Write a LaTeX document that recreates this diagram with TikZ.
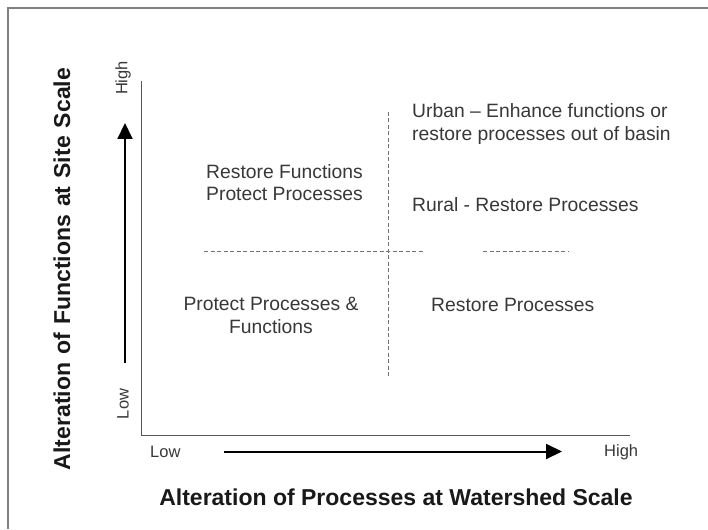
\documentclass[tikz,border=0pt]{standalone}
\usepackage{fontspec}
\setmainfont{Liberation Sans}
\usetikzlibrary{arrows.meta}
\definecolor{txt}{HTML}{383838}
\definecolor{axisc}{HTML}{555555}
\definecolor{framec}{HTML}{808080}
\definecolor{dashc}{HTML}{707070}
\tikzset{
  body/.style={inner sep=0pt, text=txt, font=\fontsize{19.3}{22.5}\selectfont},
  small/.style={inner sep=0pt, text=txt, font=\fontsize{16.5}{19}\selectfont},
  title/.style={inner sep=0pt, text=black!90, font=\bfseries\fontsize{23}{26}\selectfont},
  axisline/.style={draw=axisc, line width=1.4pt},
  divider/.style={draw=dashc, line width=1pt, dash pattern=on 4pt off 2.5pt},
  bigarrow/.style={draw=black, line width=2pt, -{Triangle[length=16pt,width=15pt]}},
}
\begin{document}
\begin{tikzpicture}[x=1pt,y=-1pt]
\useasboundingbox (0,0) rectangle (708,529);
\fill[white] (0,0) rectangle (708,529);
% frame (only top and left visible)
\coordinate (f1) at (8,529);
\coordinate (f2) at (8,8);
\coordinate (f3) at (708,8);
\draw[draw=framec, line width=1.5pt] (f1) -- (f2) -- (f3);
% axes
\coordinate (ytop) at (141.7,81);
\coordinate (origin) at (141.7,435.7);
\coordinate (xend) at (630,435.7);
\draw[axisline] (ytop) -- (origin) -- (xend);
% dividers
\coordinate (v1) at (388,112);
\coordinate (v2) at (388,378);
\draw[divider] (v1) -- (v2);
\coordinate (h1) at (204,251);
\coordinate (h2) at (424,251);
\coordinate (h3) at (483,251);
\coordinate (h4) at (568,251);
\draw[divider] (h1) -- (h2);
\draw[divider] (h3) -- (h4);
% arrows
\coordinate (va) at (125,363);
\coordinate (vb) at (125,123);
\draw[bigarrow] (va) -- (vb);
\coordinate (ha) at (224,451.5);
\coordinate (hb) at (562,451.5);
\draw[bigarrow] (ha) -- (hb);
% axis end labels
\node[small, rotate=90] (yhigh) at (123,78) {High};
\node[small, rotate=90] (ylow) at (123,404) {Low};
\node[small, anchor=west] (xlow) at (150,452) {Low};
\node[small, anchor=west] (xhigh) at (604,452) {High};
% quadrant texts
\node[body, anchor=west, align=left] (q1) at (206,182.5) {Restore Functions\\Protect Processes};
\node[body, anchor=west, align=left] (q2) at (412,124) {Urban -- Enhance functions or\\restore processes out of basin};
\node[body, anchor=west] (q2b) at (412,205) {Rural - Restore Processes};
\node[body, align=center] (q3) at (271,315.5) {Protect Processes \&\\Functions};
\node[body, anchor=west] (q4) at (431,305) {Restore Processes};
% titles
\node[title] (xtitle) at (396,497) {Alteration of Processes at Watershed Scale};
\node[title, rotate=90] (ytitle) at (62,269) {\makebox[402pt][s]{Alteration of Functions at Site Scale}};
\end{tikzpicture}
\end{document}
